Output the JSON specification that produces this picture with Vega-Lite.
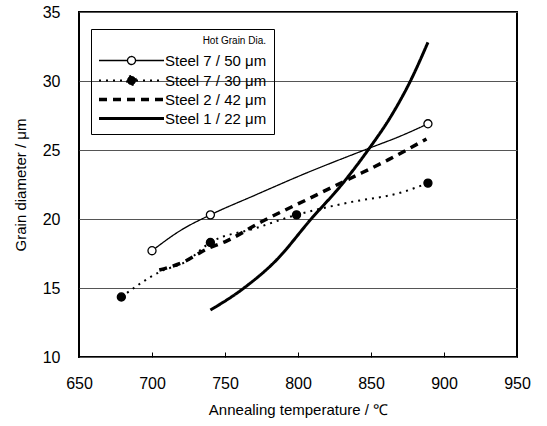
{
  "$schema": "https://vega.github.io/schema/vega-lite/v6.json",
  "width": 438,
  "height": 345,
  "autosize": "none",
  "padding": {"left": 79, "top": 12, "right": 30, "bottom": 69},
  "background": "white",
  "config": {
    "view": {"stroke": "black", "strokeWidth": 2},
    "font": "Liberation Sans",
    "axis": {"labelFont": "Liberation Sans", "titleFont": "Liberation Sans", "labelColor": "black", "titleColor": "black", "titleFontWeight": "normal", "domain": false}
  },
  "data": {
    "values": [
      {"s": "Steel 7 / 50 μm", "t": 700, "d": 17.7, "m": 1},
      {"s": "Steel 7 / 50 μm", "t": 720, "d": 19.2, "m": 0},
      {"s": "Steel 7 / 50 μm", "t": 740, "d": 20.3, "m": 1},
      {"s": "Steel 7 / 50 μm", "t": 770, "d": 21.7, "m": 0},
      {"s": "Steel 7 / 50 μm", "t": 805, "d": 23.3, "m": 0},
      {"s": "Steel 7 / 50 μm", "t": 848, "d": 25.1, "m": 0},
      {"s": "Steel 7 / 50 μm", "t": 870, "d": 26.0, "m": 0},
      {"s": "Steel 7 / 50 μm", "t": 889, "d": 26.9, "m": 1},
      {"s": "Steel 7 / 30 μm", "t": 679, "d": 14.35, "m": 1},
      {"s": "Steel 7 / 30 μm", "t": 706, "d": 16.2, "m": 0},
      {"s": "Steel 7 / 30 μm", "t": 723, "d": 16.9, "m": 0},
      {"s": "Steel 7 / 30 μm", "t": 740, "d": 18.3, "m": 1},
      {"s": "Steel 7 / 30 μm", "t": 770, "d": 19.3, "m": 0},
      {"s": "Steel 7 / 30 μm", "t": 799, "d": 20.3, "m": 1},
      {"s": "Steel 7 / 30 μm", "t": 835, "d": 21.2, "m": 0},
      {"s": "Steel 7 / 30 μm", "t": 870, "d": 21.9, "m": 0},
      {"s": "Steel 7 / 30 μm", "t": 889, "d": 22.6, "m": 1},
      {"s": "Steel 2 / 42 μm", "t": 705, "d": 16.3, "m": 0},
      {"s": "Steel 2 / 42 μm", "t": 722, "d": 16.9, "m": 0},
      {"s": "Steel 2 / 42 μm", "t": 737, "d": 17.8, "m": 0},
      {"s": "Steel 2 / 42 μm", "t": 751, "d": 18.4, "m": 0},
      {"s": "Steel 2 / 42 μm", "t": 775, "d": 19.8, "m": 0},
      {"s": "Steel 2 / 42 μm", "t": 806, "d": 21.4, "m": 0},
      {"s": "Steel 2 / 42 μm", "t": 835, "d": 22.9, "m": 0},
      {"s": "Steel 2 / 42 μm", "t": 862, "d": 24.3, "m": 0},
      {"s": "Steel 2 / 42 μm", "t": 888, "d": 25.8, "m": 0},
      {"s": "Steel 1 / 22 μm", "t": 740, "d": 13.4, "m": 0},
      {"s": "Steel 1 / 22 μm", "t": 763, "d": 15.0, "m": 0},
      {"s": "Steel 1 / 22 μm", "t": 785, "d": 17.0, "m": 0},
      {"s": "Steel 1 / 22 μm", "t": 809, "d": 20.0, "m": 0},
      {"s": "Steel 1 / 22 μm", "t": 830, "d": 22.5, "m": 0},
      {"s": "Steel 1 / 22 μm", "t": 848, "d": 25.0, "m": 0},
      {"s": "Steel 1 / 22 μm", "t": 864, "d": 27.5, "m": 0},
      {"s": "Steel 1 / 22 μm", "t": 877, "d": 30.0, "m": 0},
      {"s": "Steel 1 / 22 μm", "t": 889, "d": 32.8, "m": 0}
    ]
  },
  "encoding": {
    "x": {
      "field": "t", "type": "quantitative",
      "scale": {"domain": [650, 950], "nice": false, "zero": false},
      "axis": {"title": "Annealing temperature / ℃", "values": [650, 700, 750, 800, 850, 900, 950], "grid": false, "tickSize": -5, "tickColor": "black", "labelFontSize": 16, "labelPadding": 23, "titleFontSize": 15, "titlePadding": 11, "labelFlush": false}
    },
    "y": {
      "field": "d", "type": "quantitative",
      "scale": {"domain": [10, 35], "nice": false, "zero": false},
      "axis": {"title": "Grain diameter / μm", "values": [10, 15, 20, 25, 30, 35], "ticks": false, "grid": true, "gridColor": "#555", "gridOpacity": 1, "gridWidth": 1, "labelFontSize": 16, "labelPadding": 19, "titleFontSize": 15, "titlePadding": 14, "labelFlush": false}
    }
  },
  "layer": [
    {
      "mark": {"type": "line", "interpolate": "monotone", "color": "black"},
      "encoding": {
        "strokeDash": {
          "field": "s", "type": "nominal",
          "scale": {"type": "ordinal", "domain": ["Steel 7 / 50 μm", "Steel 7 / 30 μm", "Steel 2 / 42 μm", "Steel 1 / 22 μm"], "range": [[1, 0], [2, 5], [8, 6], [1, 0]]},
          "legend": {
            "title": "Hot Grain Dia.", "orient": "none", "legendX": 12, "legendY": 17,
            "titleAnchor": "end", "titleFontSize": 10, "titleFontWeight": "normal", "titleColor": "black", "titlePadding": 7,
            "labelFontSize": 15, "labelColor": "black", "strokeColor": "black", "padding": 7,
            "symbolSize": 100, "symbolOffset": 26, "labelOffset": 26, "rowPadding": 3,
            "encode": {
              "symbols": {
                "strokeWidth": {
                  "condition": [
                    {"test": "indexOf(datum.value, '42') >= 0", "value": 3.5},
                    {"test": "indexOf(datum.value, '22') >= 0", "value": 3},
                    {"test": "indexOf(datum.value, '30') >= 0", "value": 2}
                  ],
                  "value": 1.3
                },
                "stroke": {"value": "black"}
              }
            }
          }
        },
        "strokeWidth": {
          "field": "s", "type": "nominal",
          "scale": {"type": "ordinal", "domain": ["Steel 7 / 50 μm", "Steel 7 / 30 μm", "Steel 2 / 42 μm", "Steel 1 / 22 μm"], "range": [1.3, 2, 3.5, 3]},
          "legend": null
        }
      }
    },
    {
      "transform": [{"filter": "datum.m == 1"}],
      "mark": {"type": "point", "shape": "circle", "filled": true, "size": 65, "stroke": "black", "strokeWidth": 1.3, "opacity": 1},
      "encoding": {
        "fill": {
          "field": "s", "type": "nominal",
          "scale": {"type": "ordinal", "domain": ["Steel 7 / 50 μm", "Steel 7 / 30 μm", "Steel 2 / 42 μm", "Steel 1 / 22 μm"], "range": ["white", "black", "transparent", "transparent"]},
          "legend": {"title": "Hot Grain Dia."}
        }
      }
    },
    {
      "transform": [{"filter": "datum.m == 2"}],
      "mark": {"type": "point", "filled": false, "opacity": 0},
      "encoding": {
        "shape": {
          "field": "s", "type": "nominal",
          "scale": {"type": "ordinal", "domain": ["Steel 7 / 50 μm", "Steel 7 / 30 μm", "Steel 2 / 42 μm", "Steel 1 / 22 μm"], "range": ["M-6.5,0H-0.8M0.8,0H6.5M-0.8,0A0.8,0.8 0 1,0 0.8,0A0.8,0.8 0 1,0 -0.8,0Z", "M-6.5,0H-0.9M0.9,0H6.5M-0.9,0A0.9,0.9 0 1,0 0.9,0A0.9,0.9 0 1,0 -0.9,0Z", "M-6.5,0H6.5", "M-6.5,0H6.5"]},
          "legend": {"title": "Hot Grain Dia."}
        }
      }
    }
  ]
}
